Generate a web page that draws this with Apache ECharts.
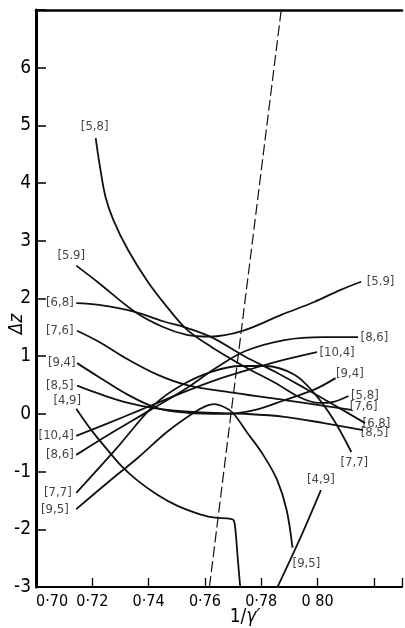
<!DOCTYPE html>
<html><head><meta charset="utf-8">
<script src="https://cdn.jsdelivr.net/npm/echarts@6/dist/echarts.min.js"></script>
<style>html,body{margin:0;padding:0;background:#fff}#c{width:405px;height:628px}</style>
</head><body><div id="c"></div>
<script>
// ---- data ----
const xTickLabels = ['0·70','0·72','0·74','0·76','0·78','0 80'];
const yTickValues = [-3,-2,-1,0,1,2,3,4,5,6];

const c58  = [[0.7212,4.78],[0.7226,4.32],[0.7247,3.76],[0.7275,3.36],[0.7327,2.84],[0.7397,2.29],[0.7466,1.85],[0.7536,1.46],[0.7623,1.16],[0.7744,0.81],[0.7849,0.54],[0.7936,0.29],[0.8005,0.19],[0.8057,0.21],[0.8110,0.31]];
const c59  = [[0.7143,2.57],[0.7223,2.27],[0.7351,1.77],[0.7449,1.51],[0.7536,1.37],[0.7616,1.34],[0.7734,1.44],[0.7873,1.72],[0.7988,1.94],[0.8082,2.15],[0.8155,2.29]];
const c68  = [[0.7143,1.92],[0.7223,1.89],[0.7351,1.77],[0.7449,1.61],[0.7536,1.49],[0.7623,1.33],[0.7744,0.99],[0.7849,0.73],[0.7953,0.45],[0.8057,0.16],[0.8169,-0.16]];
const c76  = [[0.7146,1.44],[0.7223,1.25],[0.7317,0.97],[0.7431,0.68],[0.7536,0.50],[0.7710,0.36],[0.7883,0.24],[0.8023,0.14],[0.8120,0.07]];
const c94  = [[0.7146,0.88],[0.7223,0.64],[0.7327,0.33],[0.7431,0.10],[0.7536,0.02],[0.7675,0.00],[0.7779,0.07],[0.7883,0.24],[0.7988,0.42],[0.8064,0.62]];
const c85  = [[0.7146,0.49],[0.7223,0.35],[0.7327,0.19],[0.7431,0.09],[0.7570,0.03],[0.7744,0.00],[0.7883,-0.05],[0.8023,-0.16],[0.8162,-0.28]];
const c49a = [[0.7143,0.09],[0.7198,-0.29],[0.7257,-0.64],[0.7303,-0.90],[0.7362,-1.16],[0.7431,-1.40],[0.7501,-1.59],[0.7570,-1.72],[0.7623,-1.79],[0.7692,-1.82],[0.7703,-1.85],[0.7710,-2.10],[0.7717,-2.53],[0.7727,-3.09]];
const c49b = [[0.7856,-3.02],[0.7936,-2.18],[0.8012,-1.32]];
const c104 = [[0.7143,-0.38],[0.7257,-0.16],[0.7372,0.07],[0.7501,0.33],[0.7640,0.59],[0.7779,0.80],[0.7883,0.94],[0.7998,1.07]];
const c86  = [[0.7143,-0.71],[0.7275,-0.31],[0.7407,0.07],[0.7536,0.45],[0.7640,0.80],[0.7744,1.09],[0.7883,1.28],[0.8023,1.33],[0.8144,1.33]];
const c77  = [[0.7143,-1.37],[0.7282,-0.62],[0.7421,0.16],[0.7518,0.50],[0.7623,0.73],[0.7727,0.83],[0.7814,0.83],[0.7918,0.68],[0.7988,0.36],[0.8057,-0.10],[0.8120,-0.66]];
const c95  = [[0.7143,-1.65],[0.7257,-1.18],[0.7362,-0.76],[0.7466,-0.31],[0.7560,0.02],[0.7605,0.14],[0.7633,0.17],[0.7668,0.12],[0.7699,0.02],[0.7751,-0.33],[0.7807,-0.71],[0.7856,-1.14],[0.7890,-1.66],[0.7911,-2.32]];
const dashedLine = [[0.7616,-3],[0.7871,7]];

const curveNames  = ['[5,8]','[5.9]','[6,8]','[7,6]','[9,4]','[8,5]','[4,9]','[4,9]','[10,4]','[8,6]','[7,7]','[9,5]'];
const curveData   = [c58, c59, c68, c76, c94, c85, c49a, c49b, c104, c86, c77, c95];
const leftLabels  = ['[5,8]','[5.9]','[6,8]','[7,6]','[9,4]','[8,5]','[4,9]',null,'[10,4]','[8,6]','[7,7]','[9,5]'];
const rightLabels = ['[5,8]','[5.9]','[6,8]','[7,6]','[9,4]','[8,5]',null,'[4,9]','[10,4]','[8,6]','[7,7]','[9,5]'];

// ---- styling (label placement) ----
const FONT = "'Liberation Sans Narrow','DejaVu Sans Condensed','Liberation Sans',sans-serif";
const leftPos = [
  {position:'top', distance:4, offset:[-1,0]},
  {position:'top', distance:3, offset:[-5,0]},
  {position:'left', distance:2},
  {position:'left', distance:3},
  {position:'left', distance:1},
  {position:'left', distance:3},
  {position:'top', distance:1, offset:[-9,0]},
  null,
  {position:'left', distance:2},
  {position:'left', distance:2},
  {position:'left', distance:4},
  {position:'left', distance:7, offset:[0,1]}
];
const rightPos = [
  {position:'right', distance:2},
  {position:'right', distance:5},
  {position:'right', distance:0, offset:[-3,0]},
  {position:'right', distance:0, offset:[-2,-3]},
  {position:'right', distance:0, offset:[0,-5]},
  {position:'right', distance:0, offset:[-3,3]},
  null,
  {position:'top', distance:3},
  {position:'right', distance:2},
  {position:'right', distance:2},
  {position:'bottom', distance:4, offset:[3,0]},
  {position:'bottom', distance:9, offset:[14,0]}
];

const lineSeries = curveData.map((pts, i) => ({
  name: curveNames[i], type: 'line', data: pts, symbol: 'none', smooth: 0.35,
  clip: true, silent: true,
  lineStyle: {color: '#111', width: 1.8}
}));

const labelPoints = [];
curveData.forEach((pts, i) => {
  if (leftLabels[i]) labelPoints.push({value: pts[0], label: Object.assign({show:true, formatter: leftLabels[i]}, leftPos[i])});
  if (rightLabels[i]) labelPoints.push({value: pts[pts.length-1], label: Object.assign({show:true, formatter: rightLabels[i]}, rightPos[i])});
});

const chart = echarts.init(document.getElementById('c'), null, {renderer:'canvas'});
chart.setOption({
  animation: false,
  backgroundColor: '#fff',
  grid: {left: 36, right: -5, top: 10, bottom: 41, containLabel: false},
  xAxis: [{
    type: 'value', min: 0.70, max: 0.83, interval: 0.02, position: 'bottom',
    axisLine: {show: true, onZero: false, lineStyle: {color: '#000', width: 2}},
    axisTick: {show: true, inside: true, length: 9, lineStyle: {color: '#000', width: 1.3}},
    axisLabel: {
      color: '#000', fontSize: 16, fontFamily: FONT, margin: 7, alignMinLabel: 'left',
      formatter: v => { const k = Math.round((v - 0.70) / 0.02); return (Math.abs(v - (0.70 + 0.02 * k)) < 1e-6 && xTickLabels[k]) ? xTickLabels[k] : ''; }
    },
    splitLine: {show: false}
  }, {
    type: 'value', min: 0.70, max: 0.83, position: 'top',
    axisLine: {show: true, onZero: false, lineStyle: {color: '#000', width: 2.5}},
    axisTick: {show: false}, axisLabel: {show: false}, splitLine: {show: false}
  }],
  yAxis: {
    type: 'value', min: -3, max: 7, interval: 1,
    axisLine: {show: true, onZero: false, lineStyle: {color: '#000', width: 3}},
    axisTick: {show: true, inside: true, length: 10, lineStyle: {color: '#000', width: 1.5}},
    axisLabel: {color: '#000', fontSize: 19, fontFamily: FONT, margin: 5,
      formatter: v => yTickValues.indexOf(v) >= 0 ? String(v) : ''},
    splitLine: {show: false}
  },
  series: lineSeries.concat([
    {name: 'boundary', type: 'line', data: dashedLine, symbol: 'none', silent: true,
     lineStyle: {color: '#111', width: 1.2, type: [11, 4]}},
    {name: 'labels', type: 'scatter', data: labelPoints, symbolSize: 1, silent: true,
     itemStyle: {color: 'rgba(0,0,0,0)'},
     label: {color: '#111', fontSize: 13, fontFamily: FONT}}
  ]),
  graphic: [
    {type: 'text', x: 17, y: 324, rotation: Math.PI / 2,
     style: {text: 'Δz', fill: '#000', font: 'italic 19px ' + FONT, align: 'center', verticalAlign: 'middle'}},
    {type: 'text', x: 245, y: 617,
     style: {text: '{a|1/}{b|γ′}', align: 'center', verticalAlign: 'middle',
       rich: {a: {fontSize: 19, fontFamily: FONT, fill: '#000'}, b: {fontSize: 19, fontFamily: FONT, fontStyle: 'italic', fill: '#000'}}}}
  ]
});
</script></body></html>
